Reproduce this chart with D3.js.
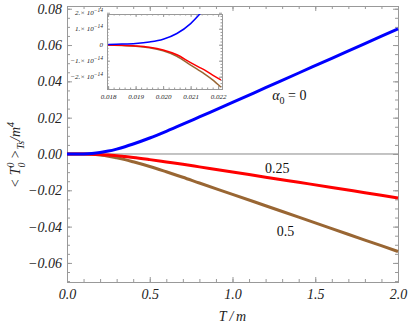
<!DOCTYPE html>
<html>
<head>
<meta charset="utf-8">
<script src="https://cdn.jsdelivr.net/npm/d3@7"></script>
<style>
  body { margin: 0; background: #fff; }
  svg { display: block; }
  .tick text { font-family: "Liberation Serif", "DejaVu Serif", serif; font-style: italic; fill: #222; }
  .domain, .tick line { stroke: #999; }
</style>
</head>
<body>
<svg id="svg" width="409" height="327"></svg>
<script>
// main panel, energy density vs T/m for three alpha0
const tMain   = [0, 0.05, 0.1, 0.15, 0.2, 0.25, 0.3, 0.35, 0.4, 0.5, 0.6, 0.7, 0.8, 1.0, 1.2, 1.4, 1.6, 1.8, 2.0];
const blue0   = [0, 0, 0.00005, 0.0003, 0.0008, 0.0016, 0.0027, 0.0040, 0.0055, 0.0088, 0.0125, 0.0164, 0.0204, 0.0284, 0.0365, 0.0446, 0.0527, 0.0608, 0.0689];
const red025  = [0, 0, -0.00002, -0.0001, -0.0003, -0.0006, -0.0009, -0.0014, -0.0019, -0.0031, -0.0044, -0.0057, -0.0071, -0.0099, -0.0128, -0.0156, -0.0184, -0.0213, -0.0242];
const brown05 = [0, 0, -0.00004, -0.0002, -0.0006, -0.0012, -0.0021, -0.0031, -0.0043, -0.0069, -0.0098, -0.0128, -0.0160, -0.0222, -0.0285, -0.0348, -0.0411, -0.0474, -0.0537];

const xTicks = [0, 0.5, 1.0, 1.5, 2.0];
const yTicks = [-0.06, -0.04, -0.02, 0, 0.02, 0.04, 0.06, 0.08];

// inset, values in units of 1e-14
const tInset     = [0.0180, 0.0185, 0.0190, 0.0195, 0.0200, 0.0205, 0.0210, 0.0213, 0.0215, 0.0218, 0.0221];
const insetBlue  = [0.02, 0.04, 0.08, 0.17, 0.34, 0.70, 1.32, 1.85, 2.25, 2.9, 3.6];
const insetRed   = [-0.02, -0.04, -0.08, -0.16, -0.33, -0.63, -1.12, -1.40, -1.58, -1.90, -2.20];
const insetBrown = [-0.02, -0.05, -0.09, -0.19, -0.38, -0.72, -1.28, -1.60, -1.82, -2.20, -2.65];
const xiTicks = [0.018, 0.019, 0.020, 0.021, 0.022];
const yiTicks = [-2, -1, 0, 1, 2];

const svg = d3.select("svg#svg");
const x = d3.scaleLinear().domain([0, 2]).range([67, 398]);
const y = d3.scaleLinear().domain([-0.0705, 0.0815]).range([282, 6]);

function minor(lo, hi, step) {
    let out = [];
    for (let v = lo; v <= hi + step / 2; v += step) out.push(+v.toFixed(6));
    return out;
}

function frameAxes(g, xs, ys, xt, yt, xm, ym, big, small, fs, fmtX, fmtY, pad) {
    const [x0, x1] = xs.range(), [y0, y1] = ys.range();
    g.append("g").attr("transform", `translate(0,${y0})`)
        .call(d3.axisBottom(xs).tickValues(xm).tickSize(-small).tickFormat(""));
    g.append("g").attr("transform", `translate(0,${y1})`)
        .call(d3.axisTop(xs).tickValues(xm).tickSize(-small).tickFormat(""));
    g.append("g").attr("transform", `translate(${x0},0)`)
        .call(d3.axisLeft(ys).tickValues(ym).tickSize(-small).tickFormat(""));
    g.append("g").attr("transform", `translate(${x1},0)`)
        .call(d3.axisRight(ys).tickValues(ym).tickSize(-small).tickFormat(""));
    g.append("g").attr("transform", `translate(0,${y0})`)
        .call(d3.axisBottom(xs).tickValues(xt).tickSize(-big).tickPadding(pad[0]).tickFormat(fmtX))
        .attr("font-size", fs).attr("class", "xlab");
    g.append("g").attr("transform", `translate(0,${y1})`)
        .call(d3.axisTop(xs).tickValues(xt).tickSize(-big).tickFormat(""));
    g.append("g").attr("transform", `translate(${x0},0)`)
        .call(d3.axisLeft(ys).tickValues(yt).tickSize(-big).tickPadding(pad[1]).tickFormat(fmtY))
        .attr("font-size", fs).attr("class", "ylab");
    g.append("g").attr("transform", `translate(${x1},0)`)
        .call(d3.axisRight(ys).tickValues(yt).tickSize(-big).tickFormat(""));
    g.selectAll(".domain").attr("stroke", "#999");
    g.selectAll(".tick line").attr("stroke", "#999");
}

const main = svg.append("g");
main.append("line")
    .attr("x1", x(0)).attr("x2", x(2)).attr("y1", y(0)).attr("y2", y(0))
    .attr("stroke", "#888").attr("stroke-width", 1);

frameAxes(main, x, y, xTicks, yTicks, minor(0, 2, 0.1), minor(-0.07, 0.08, 0.005), 5, 3, 14,
    d => d3.format(".1f")(d), d => d3.format(".2f")(d).replace("-", "\u2212"), [7, 5]);

const line = d3.line().x(d => x(d[0])).y(d => y(d[1])).curve(d3.curveMonotoneX);
const series = [
    {vals: brown05, color: "#996633"},
    {vals: red025, color: "#ff0000"},
    {vals: blue0, color: "#0000ff"}
];
main.selectAll("path.curve").data(series).enter().append("path")
    .attr("class", "curve")
    .attr("d", s => line(tMain.map((t, i) => [t, s.vals[i]])))
    .attr("fill", "none").attr("stroke", s => s.color).attr("stroke-width", 3);

// curve labels
const serif = '"Liberation Serif", "DejaVu Serif", serif';
const lab = main.append("text").attr("x", x(1.24)).attr("y", y(0.0295))
    .attr("font-family", serif).attr("font-size", 14).attr("fill", "#111");
lab.append("tspan").attr("font-style", "italic").text("\u03b1");
lab.append("tspan").attr("font-size", 10).attr("dy", 4).text("0");
lab.append("tspan").attr("dy", -4).text(" = 0");
main.append("text").attr("x", x(1.27)).attr("y", y(-0.0105)).attr("text-anchor", "middle")
    .attr("font-family", serif).attr("font-size", 14).attr("fill", "#111").text("0.25");
main.append("text").attr("x", x(1.32)).attr("y", y(-0.045)).attr("text-anchor", "middle")
    .attr("font-family", serif).attr("font-size", 14).attr("fill", "#111").text("0.5");

// axis titles
main.append("text").attr("x", x(1.0)).attr("y", 321).attr("text-anchor", "middle")
    .attr("font-family", serif).attr("font-style", "italic").attr("font-size", 14).attr("fill", "#222")
    .text("T\u2009/\u2009m");

const yl = main.append("text").attr("transform", "translate(20,155) rotate(-90)")
    .attr("text-anchor", "middle").attr("font-family", serif).attr("font-style", "italic")
    .attr("font-size", 14).attr("fill", "#222");
yl.append("tspan").text("< T");
yl.append("tspan").attr("font-size", 10).attr("dy", -6).text("0");
yl.append("tspan").attr("font-size", 10).attr("dx", -5).attr("dy", 11).text("0");
yl.append("tspan").attr("dy", -5).text(" >");
yl.append("tspan").attr("font-size", 10).attr("dy", 4).text("Ts");
yl.append("tspan").attr("dy", -4).text("/m");
yl.append("tspan").attr("font-size", 10).attr("dy", -6).text("4");

// inset
const xi = d3.scaleLinear().domain([0.01796, 0.02214]).range([107, 222]);
const yi = d3.scaleLinear().domain([-2.77, 1.92]).range([89, 14]);
const inset = svg.append("g");
inset.append("rect").attr("x", 107).attr("y", 14).attr("width", 115).attr("height", 75).attr("fill", "#fff");
inset.append("clipPath").attr("id", "clipInset").append("rect")
    .attr("x", 107).attr("y", 14).attr("width", 115).attr("height", 75);

frameAxes(inset, xi, yi, xiTicks, yiTicks, minor(0.018, 0.022, 0.0002), minor(-2.6, 1.8, 0.2), 3, 1.5, 7,
    d => d3.format(".3f")(d), d => "", [5, 4]);

// inset y labels with exponent
inset.select(".ylab").selectAll(".tick text").each(function(d) {
    const t = d3.select(this);
    if (d === 0) { t.text("0"); return; }
    t.append("tspan").text((d < 0 ? "\u2212" : "") + Math.abs(d) + ".\u00d7 10");
    t.append("tspan").attr("font-size", 5.5).attr("dy", -3).text("\u221214");
});
inset.selectAll(".tick text").attr("fill", "#555");

const linei = d3.line().x(d => xi(d[0])).y(d => yi(d[1])).curve(d3.curveMonotoneX);
const iseries = [
    {vals: insetBrown, color: "#996633"},
    {vals: insetRed, color: "#ff0000"},
    {vals: insetBlue, color: "#0000ff"}
];
inset.append("g").attr("clip-path", "url(#clipInset)")
    .selectAll("path").data(iseries).enter().append("path")
    .attr("d", s => linei(tInset.map((t, i) => [t, s.vals[i]])))
    .attr("fill", "none").attr("stroke", s => s.color).attr("stroke-width", 1.5);
</script>
</body>
</html>
